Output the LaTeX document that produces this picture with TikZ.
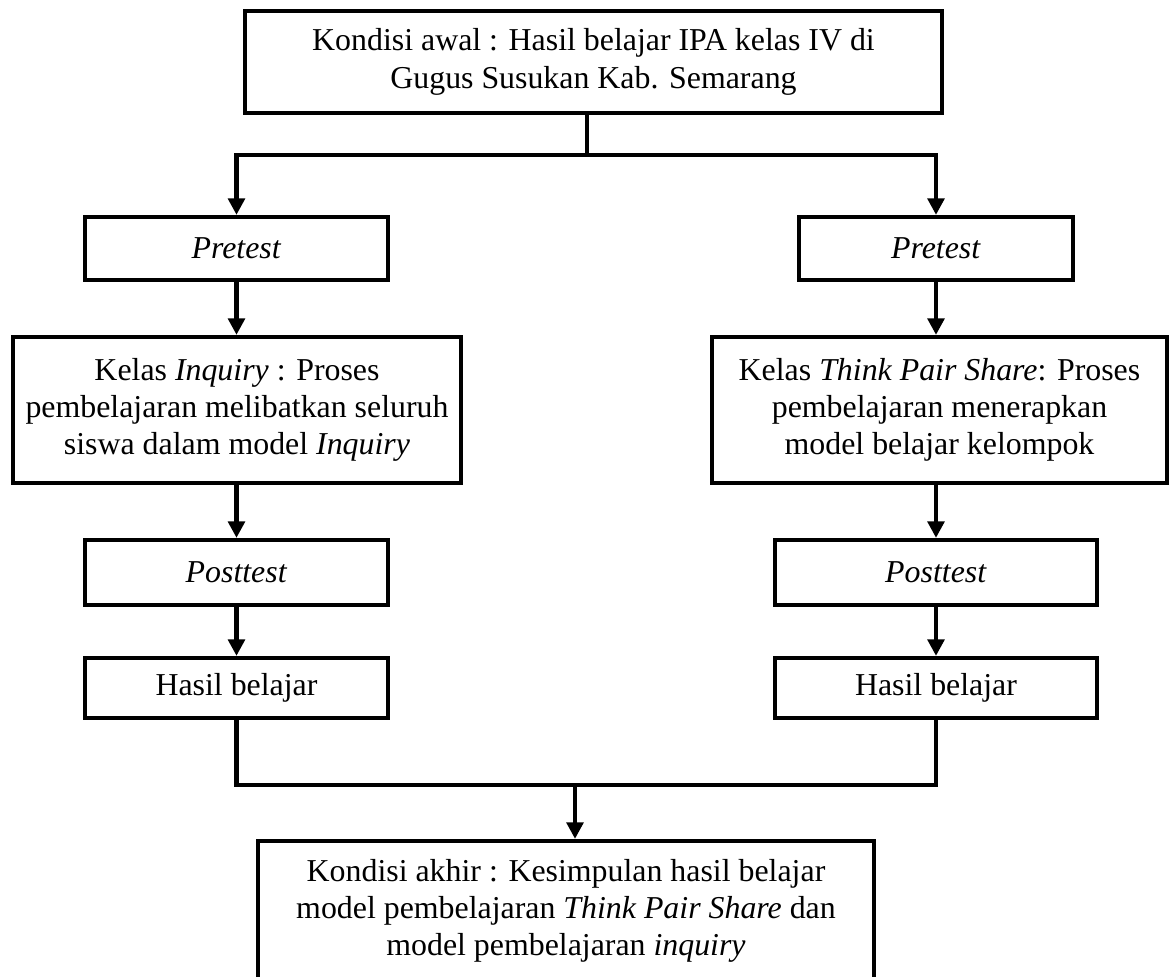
\documentclass[tikz,border=0pt]{standalone}
\usepackage{fontspec}
\setmainfont{Liberation Serif}
\usetikzlibrary{arrows.meta}

\begin{document}
\begin{tikzpicture}[x=0.015cm, y=-0.015cm,
    box/.style={draw=black, line width=1.8pt, rectangle, align=center, inner sep=0pt,
        font=\fontsize{13.6}{15.9}\selectfont},
    line/.style={draw=black, line width=1.8pt},
    arr/.style={line, -{Triangle[length=7pt,width=7pt]}}]
    \useasboundingbox (0,0) rectangle (1170,977);

    \node[box, minimum width=10.455cm, minimum height=1.53cm] (awal) at (593.5,62)
        {Kondisi awal : Hasil belajar IPA kelas IV di\\Gugus Susukan Kab. Semarang};

    \node[box, minimum width=4.545cm, minimum height=0.945cm] (preA) at (236.5,248.5) {\textit{Pretest}};
    \node[box, minimum width=4.11cm, minimum height=0.945cm] (preB) at (936,248.5) {\textit{Pretest}};

    \node[box, minimum width=6.72cm, minimum height=2.19cm] (kelasA) at (237,410)
        {Kelas \textit{Inquiry} : Proses\\pembelajaran melibatkan seluruh\\siswa dalam model \textit{Inquiry}};
    \node[box, minimum width=6.825cm, minimum height=2.19cm] (kelasB) at (939.5,410)
        {Kelas \textit{Think Pair Share}: Proses\\pembelajaran menerapkan\\model belajar kelompok};

    \node[box, minimum width=4.545cm, minimum height=0.975cm] (postA) at (236.5,572.5) {\textit{Posttest}};
    \node[box, minimum width=4.83cm, minimum height=0.975cm] (postB) at (936,572.5) {\textit{Posttest}};

    \node[box, minimum width=4.545cm, minimum height=0.9cm] (hasilA) at (236.5,688) {Hasil belajar};
    \node[box, minimum width=4.83cm, minimum height=0.9cm] (hasilB) at (936,688) {Hasil belajar};

    \node[box, minimum width=9.24cm, minimum height=2.1cm] (akhir) at (566,911)
        {Kondisi akhir : Kesimpulan hasil belajar\\model pembelajaran \textit{Think Pair Share} dan\\model pembelajaran \textit{inquiry}};

    \coordinate (pisah) at (587,155);
    \coordinate (gabung) at (575,785);

    \draw[line] (awal.south -| pisah) -- (pisah);
    \draw[arr] (pisah) -| (preA.north);
    \draw[arr] (pisah) -| (preB.north);
    \draw[arr] (preA.south) -- (kelasA.north -| preA);
    \draw[arr] (preB.south) -- (kelasB.north -| preB);
    \draw[arr] (kelasA.south -| postA) -- (postA.north);
    \draw[arr] (kelasB.south -| postB) -- (postB.north);
    \draw[arr] (postA.south) -- (hasilA.north);
    \draw[arr] (postB.south) -- (hasilB.north);
    \draw[line] (hasilA.south) |- (gabung) -| (hasilB.south);
    \draw[arr] (gabung) -- (akhir.north -| gabung);
\end{tikzpicture}
\end{document}
